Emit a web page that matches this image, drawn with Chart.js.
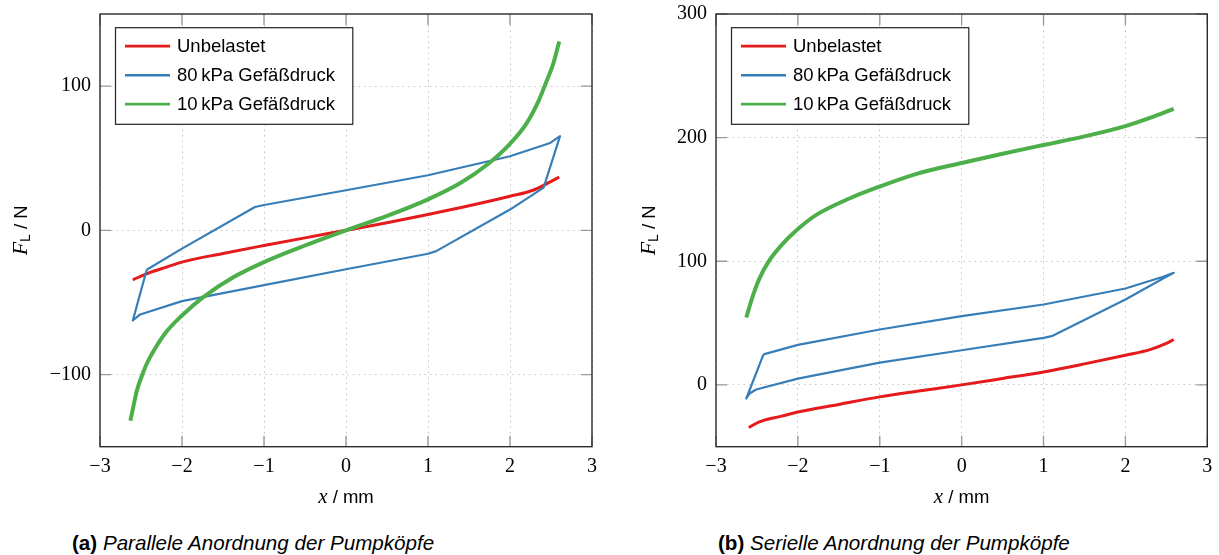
<!DOCTYPE html>
<html>
<head>
<meta charset="utf-8">
<script src="https://cdn.jsdelivr.net/npm/chart.js@4.4.1/dist/chart.umd.min.js"></script>
<style>
  html, body { margin: 0; padding: 0; background: #fff; }
  body { width: 1219px; height: 555px; position: relative; overflow: hidden; }
  canvas { position: absolute; top: 0; }
  .cap { position: absolute; top: 531px; font-family: "Liberation Sans", Arial, sans-serif; font-size: 20.6px; line-height: 24px; white-space: nowrap; color: #000; }
  .cap b { font-weight: bold; }
  .cap i { font-style: italic; }
</style>
</head>
<body>
<canvas id="chartA" width="610" height="520" style="left:0px"></canvas>
<canvas id="chartB" width="609" height="520" style="left:610px"></canvas>
<div class="cap" style="left:72px"><b>(a)</b> <i>Parallele Anordnung der Pumpköpfe</i></div>
<div class="cap" style="left:718px"><b>(b)</b> <i>Serielle Anordnung der Pumpköpfe</i></div>
<script>
// ---------- data ----------
const xTickValues = [-3, -2, -1, 0, 1, 2, 3];
const yTickValuesA = [-100, 0, 100];
const yTickValuesB = [0, 100, 200, 300];
const seriesLabels = ['Unbelastet', '80\u2009kPa Gefäßdruck', '10\u2009kPa Gefäßdruck'];
const seriesColors = ['#e41a1c', '#377eb8', '#4daf4a'];

// (a) Parallele Anordnung
const aUnbelastetX = [-2.6, -2.41, -2.19, -2.0, -1.5, -1.0, -0.5, 0, 0.5, 1.0, 1.5, 2.0, 2.28, 2.49, 2.6];
const aUnbelastetY = [-34.3, -29.6, -25.5, -22, -16, -10.5, -5.2, 0, 5.3, 11, 17, 23.6, 27.8, 33.6, 37];
const aDruck80X = [-2.43, -2.0, -1.11, -1.0, 0, 1.0, 2.0, 2.49, 2.61, 2.41, 2.0, 1.1, 1.0, 0, -1.0, -2.0, -2.51, -2.6, -2.43];
const aDruck80Y = [-27.3, -12.7, 16.2, 17.6, 27.8, 38.2, 51.4, 60.6, 65.3, 29.6, 14.4, -14.4, -16.2, -27, -38, -49.1, -58.3, -62.5, -27.3];
const aDruck10X = [-2.63, -2.6, -2.55, -2.49, -2.43, -2.35, -2.2, -2.0, -1.74, -1.37, -1.0, -0.5, 0, 0.5, 1.0, 1.4, 1.72, 2.0, 2.2, 2.35, 2.45, 2.53, 2.6];
const aDruck10Y = [-132, -124, -111, -101, -92.5, -84, -71, -59, -46.3, -32.4, -22, -10.5, 0, 10, 21.5, 33, 45.5, 60, 74, 90, 104, 116, 131];

// (b) Serielle Anordnung
const bUnbelastetX = [-2.6, -2.47, -2.2, -2.0, -1.5, -1.0, -0.5, 0, 0.5, 1.0, 1.5, 2.0, 2.3, 2.5, 2.59];
const bUnbelastetY = [-34.5, -29.9, -25.3, -22, -15.8, -9.7, -4.8, 0, 5.2, 10.5, 17, 24, 28.5, 33.5, 36.7];
const bDruck80X = [-2.42, -2.0, -1.0, 0, 1.0, 2.0, 2.46, 2.59, 2.46, 2.0, 1.1, 1.0, 0, -1.0, -2.0, -2.51, -2.59, -2.63, -2.42];
const bDruck80Y = [24.7, 32.4, 44.8, 55.6, 65, 78, 87.5, 90.6, 86, 69, 39.4, 38, 28, 18, 5.1, -3.7, -7, -11, 24.7];
const bDruck10X = [-2.63, -2.55, -2.47, -2.35, -2.2, -2.0, -1.78, -1.37, -1.01, -0.56, 0, 0.5, 1.0, 1.5, 2.0, 2.3, 2.59];
const bDruck10Y = [54.5, 72, 86, 100.5, 113, 126, 137.3, 150.8, 160.2, 170.5, 179.5, 187, 194, 201, 209.3, 216, 223.3];

// ---------- helpers ----------
const pts = (xs, ys) => xs.map((x, i) => ({ x: x, y: ys[i] }));
const fmt = v => (v < 0 ? '\u2212' : '') + Math.abs(v);
const SERIF = '"Liberation Serif", "Times New Roman", serif';
const SANS = '"Liberation Sans", Arial, sans-serif';

function measureParts(ctx, parts) {
  let w = 0;
  parts.forEach(p => { ctx.font = p.font; w += ctx.measureText(p.text).width; });
  return w;
}

const framePlugin = {
  id: 'frame',
  afterDraw(chart) {
    const ctx = chart.ctx;
    const a = chart.chartArea;
    const xs = chart.scales.x, ys = chart.scales.y;
    const o = chart.options.plugins.frame;
    ctx.save();
    // inside tick marks
    ctx.strokeStyle = '#9a9a9a';
    ctx.lineWidth = 1.4;
    const tl = 11;
    ctx.beginPath();
    o.xTicks.forEach(v => {
      const px = xs.getPixelForValue(v);
      ctx.moveTo(px, a.bottom); ctx.lineTo(px, a.bottom - tl);
      ctx.moveTo(px, a.top); ctx.lineTo(px, a.top + tl);
    });
    o.yTicks.forEach(v => {
      const py = ys.getPixelForValue(v);
      ctx.moveTo(a.left, py); ctx.lineTo(a.left + tl, py);
      ctx.moveTo(a.right, py); ctx.lineTo(a.right - tl, py);
    });
    ctx.stroke();
    // frame
    ctx.strokeStyle = '#2b2b2b';
    ctx.lineWidth = 1.4;
    ctx.strokeRect(a.left, a.top, a.right - a.left, a.bottom - a.top);

    // legend
    const bx = a.left + 15.5, by = 27.7, bw = 237.3, bh = 96.6;
    ctx.fillStyle = '#fff';
    ctx.fillRect(bx, by, bw, bh);
    ctx.strokeStyle = '#222';
    ctx.lineWidth = 1.2;
    ctx.strokeRect(bx, by, bw, bh);
    const widths = [2.8, 2.4, 2.8];
    seriesLabels.forEach((lab, i) => {
      const cy = by + 18.5 + i * 29;
      ctx.strokeStyle = seriesColors[i];
      ctx.lineWidth = widths[i];
      ctx.beginPath();
      ctx.moveTo(a.left + 25, cy); ctx.lineTo(a.left + 70, cy);
      ctx.stroke();
      ctx.fillStyle = '#000';
      ctx.font = '18.5px ' + SANS;
      ctx.textBaseline = 'middle';
      ctx.textAlign = 'left';
      ctx.fillText(lab, a.left + 77, cy + 1);
    });

    // x axis title: "x / mm"
    const xParts = [
      { text: 'x', font: 'italic 21px ' + SERIF },
      { text: ' / mm', font: '18.5px ' + SANS }
    ];
    let tw = measureParts(ctx, xParts);
    let cx = (a.left + a.right) / 2 - tw / 2;
    ctx.textBaseline = 'alphabetic';
    ctx.textAlign = 'left';
    ctx.fillStyle = '#000';
    xParts.forEach(p => { ctx.font = p.font; ctx.fillText(p.text, cx, 503); cx += ctx.measureText(p.text).width; });

    // y axis title: "F_L / N"
    const yParts = [
      { text: 'F', font: 'italic 22px ' + SERIF, dy: 0 },
      { text: 'L', font: '14px ' + SANS, dy: 3 },
      { text: ' / N', font: '18.5px ' + SANS, dy: 0 }
    ];
    tw = measureParts(ctx, yParts);
    ctx.save();
    ctx.translate(o.yTitleX, (a.top + a.bottom) / 2);
    ctx.rotate(-Math.PI / 2);
    let ux = -tw / 2;
    yParts.forEach(p => { ctx.font = p.font; ctx.fillText(p.text, ux, p.dy); ux += ctx.measureText(p.text).width; });
    ctx.restore();
    ctx.restore();
  }
};

function makeChart(id, data, yMin, yMax, yTicks, yAxisWidth, padRight, yTitleX) {
  const sets = data.map((d, i) => ({
    label: seriesLabels[i],
    data: pts(d[0], d[1]),
    borderColor: seriesColors[i],
    backgroundColor: seriesColors[i],
    borderWidth: [3, 2.2, 4][i],
    showLine: true,
    pointRadius: 0,
    fill: false,
    tension: i === 1 ? 0 : 0.4,
    cubicInterpolationMode: i === 1 ? 'default' : 'monotone',
    order: 3 - i,
    borderJoinStyle: 'round',
    borderCapStyle: 'butt'
  }));
  return new Chart(document.getElementById(id), {
    type: 'scatter',
    data: { datasets: sets },
    options: {
      responsive: false,
      animation: false,
      devicePixelRatio: 1,
      layout: { padding: { left: 0, top: 14, right: padRight, bottom: 0 } },
      plugins: {
        legend: { display: false },
        tooltip: { enabled: false },
        frame: { xTicks: xTickValues, yTicks: yTicks, yTitleX: yTitleX }
      },
      scales: {
        x: {
          type: 'linear', min: -3, max: 3,
          afterBuildTicks: s => { s.ticks = xTickValues.map(v => ({ value: v })); },
          afterFit: s => { s.height = 73.3; s.paddingLeft = 0; s.paddingRight = 0; },
          ticks: { callback: fmt, color: '#000', font: { family: SERIF, size: 20 }, padding: 8, maxRotation: 0, autoSkip: false },
          grid: { color: '#c4c4c4', lineWidth: 1, drawTicks: false },
          border: { display: false, dash: [1.5, 4] }
        },
        y: {
          type: 'linear', min: yMin, max: yMax,
          afterBuildTicks: s => { s.ticks = yTicks.map(v => ({ value: v })); },
          afterFit: s => { s.width = yAxisWidth; s.paddingTop = 0; s.paddingBottom = 0; },
          ticks: { callback: fmt, color: '#000', font: { family: SERIF, size: 20 }, padding: 9, autoSkip: false },
          grid: { color: '#c4c4c4', lineWidth: 1, drawTicks: false },
          border: { display: false, dash: [1.5, 4] }
        }
      }
    },
    plugins: [framePlugin]
  });
}

makeChart('chartA',
  [[aUnbelastetX, aUnbelastetY], [aDruck80X, aDruck80Y], [aDruck10X, aDruck10Y]],
  -150, 150, yTickValuesA, 100, 18, 27);
makeChart('chartB',
  [[bUnbelastetX, bUnbelastetY], [bDruck80X, bDruck80Y], [bDruck10X, bDruck10Y]],
  -50, 300, yTickValuesB, 106, 11.7, 45);
</script>
</body>
</html>
